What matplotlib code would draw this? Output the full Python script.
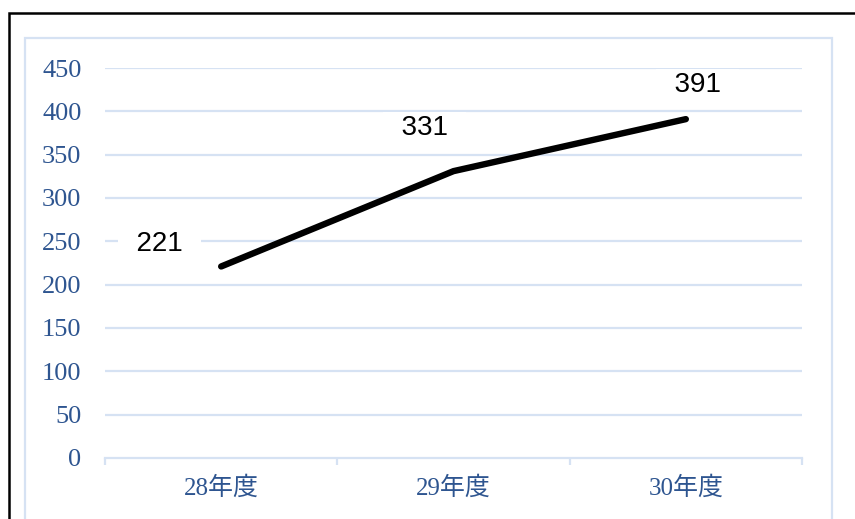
import matplotlib.pyplot as plt
from matplotlib.patches import Rectangle

# data
categories = ['28年度', '29年度', '30年度']
values = [221, 331, 391]
yticks = [0, 50, 100, 150, 200, 250, 300, 350, 400, 450]
# label offsets (pixels) from each point
label_dx = [-62, -29, 12]
label_dy = [22, 43, 34]

grid_c = '#D6E2F3'
tick_c = '#2E5590'

fig = plt.figure(figsize=(8.55, 5.19), dpi=100)
W, H = 855, 519

# outer black frame and light blue chart border
fig.patches.append(Rectangle((8.5 / W, -0.2), 1.2, 1.2 - 13.5 / H + 0.0,
                             transform=fig.transFigure, fill=False,
                             edgecolor='black', linewidth=1.8))
fig.patches.append(Rectangle((25 / W, -0.2), (832 - 25) / W, 0.2 + 1 - 38 / H,
                             transform=fig.transFigure, fill=False,
                             edgecolor=grid_c, linewidth=1.6))

ax = fig.add_axes([105 / W, 1 - 458 / H, (802 - 105) / W, (458 - 68) / H])
ax.set_xlim(-0.5, 2.5)
ax.set_ylim(0, 450)

for s in ['top', 'right', 'left']:
    ax.spines[s].set_visible(False)
ax.spines['bottom'].set_color(grid_c)
ax.spines['bottom'].set_linewidth(1.6)

ax.set_yticks(yticks)
ax.set_yticklabels([str(v) for v in yticks])
for y in yticks[1:]:
    ax.axhline(y, color=grid_c, linewidth=1.6, zorder=0)
ax.tick_params(axis='y', length=0, pad=17, labelcolor=tick_c, labelsize=19)

ax.set_xticks(range(len(categories)))
ax.set_xticklabels(categories)
ax.set_xticks([-0.5, 0.5, 1.5, 2.5], minor=True)
ax.tick_params(axis='x', which='major', length=0, pad=13, labelcolor=tick_c, labelsize=18)
ax.tick_params(axis='x', which='minor', length=5, width=1.6, color=grid_c)

for lab in ax.get_yticklabels():
    lab.set_family(['Liberation Serif', 'Noto Sans CJK JP'])
for lab in ax.get_xticklabels():
    lab.set_family(['Liberation Serif', 'Noto Sans CJK JP'])

ax.plot(range(len(values)), values, color='black', linewidth=4.6,
        solid_capstyle='round', zorder=3)

for i, v in enumerate(values):
    ax.annotate('  %d  ' % v, (i, v), xytext=(label_dx[i], label_dy[i]),
                textcoords='offset pixels', ha='center', va='center',
                fontsize=20, family=['Liberation Sans', 'DejaVu Sans'],
                bbox=dict(boxstyle='square,pad=0.1', facecolor='white', edgecolor='none'),
                zorder=2)

fig.savefig('out.png', dpi=100)
